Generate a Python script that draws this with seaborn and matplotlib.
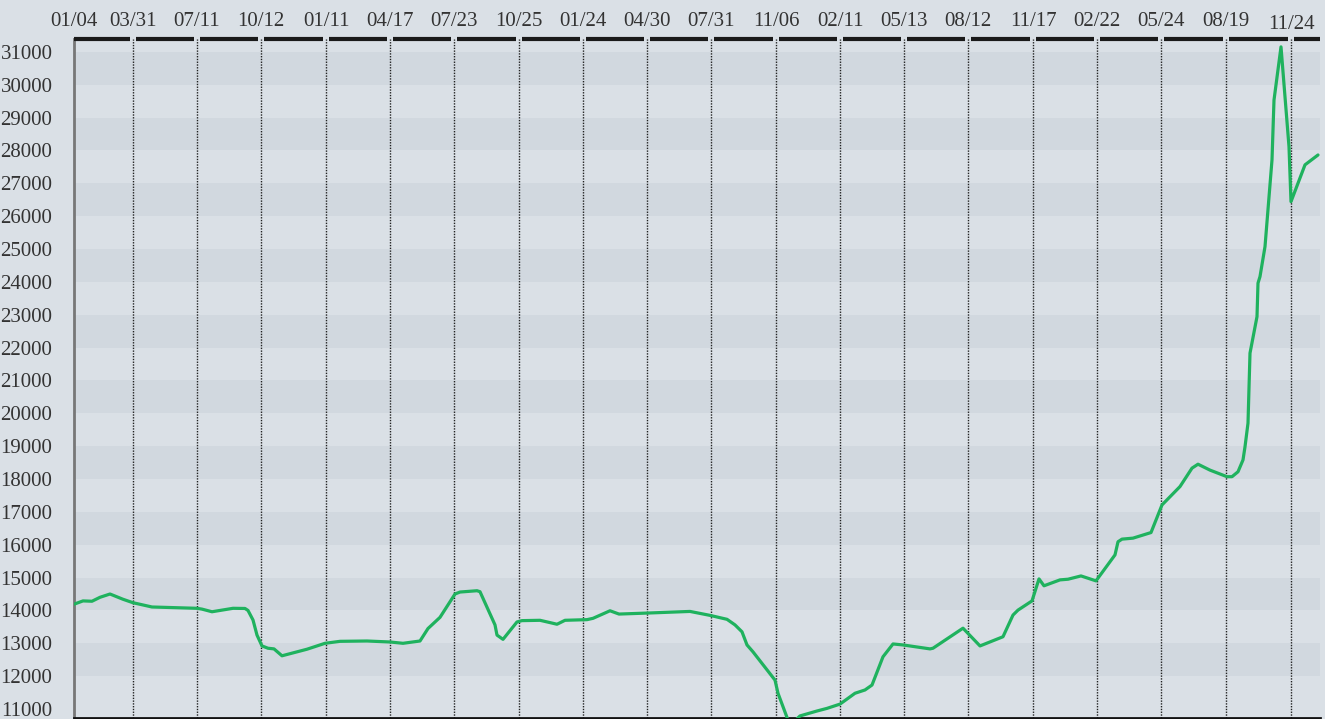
import numpy as np
import pandas as pd
import matplotlib
matplotlib.use('Agg')
import matplotlib.pyplot as plt
import seaborn as sns

# x = trading-day index, y = price
days = [0, 9, 18, 26, 36, 49, 59, 78, 123, 128, 138, 159, 171, 174, 179, 183, 188, 194,
        200, 208, 233, 251, 266, 293, 316, 329, 346, 354, 366,
        381, 386, 403, 406, 421, 423, 429, 443, 448, 466, 476, 483, 491, 513, 519, 536,
        545, 573, 616, 636,
        653, 661, 668, 673, 679, 701, 704, 716, 726, 743, 753, 766, 781, 791, 798, 809,
        819, 829, 856, 859, 889, 906, 929, 939,
        944, 958, 965, 970, 986, 994, 1007, 1022, 1041, 1044, 1048, 1059, 1077, 1088,
        1106, 1118, 1124, 1136, 1153, 1158,
        1164, 1169, 1171, 1174, 1176, 1183, 1184, 1186, 1191, 1198, 1200, 1207, 1215,
        1217, 1231, 1244]
prices = [14190, 14290, 14280, 14400, 14500, 14340, 14235, 14105, 14065, 14040, 13960,
          14065, 14060, 14000, 13710, 13250, 12920, 12850, 12830, 12620, 12820, 13000,
          13060, 13070, 13040, 13000, 13070, 13450, 13790,
          14500, 14560, 14600, 14570, 13560, 13250, 13120, 13650, 13690, 13700, 13630,
          13580, 13700, 13720, 13760, 13990, 13890, 13920, 13970, 13850,
          13730, 13560, 13350, 12950, 12740, 11880, 11480, 10500, 10790, 10940, 11020,
          11150, 11480, 11580, 11730, 12590, 12980, 12950, 12830, 12850, 13460, 12920,
          13200, 13860,
          14010, 14290, 14960, 14750, 14930, 14950, 15050, 14900, 15690, 16090, 16170,
          16200, 16370, 17210, 17770, 18330, 18450, 18270, 18070, 18070,
          18220, 18580, 18980, 19700, 21830, 22940, 23960, 24160, 25070, 27710, 29530,
          31150, 28110, 26440, 27560, 27860]

tick_days = [0, 59, 123, 187, 252, 316, 380, 445, 509, 573, 637, 702, 766, 830, 894,
             959, 1023, 1087, 1152, 1217]
tick_labels = ['01/04', '03/31', '07/11', '10/12', '01/11', '04/17', '07/23', '10/25',
               '01/24', '04/30', '07/31', '11/06', '02/11', '05/13', '08/12', '11/17',
               '02/22', '05/24', '08/19', '11/24']

df = pd.DataFrame({'day': days, 'price': prices})

bg = '#dae0e6'
band = '#d1d8df'
sns.set_style('white', {'axes.facecolor': bg, 'figure.facecolor': bg})
plt.rcParams['font.family'] = ['Liberation Serif', 'DejaVu Serif']

fig = plt.figure(figsize=(13.25, 7.19), dpi=100)
ax = fig.add_axes([74 / 1325, 1 / 719, 1246 / 1325, 679 / 719])

x_max = 1246
y_min, y_max = 10727, 31389

# alternating horizontal bands
for v in range(12000, 31000, 2000):
    ax.axhspan(v, v + 1000, color=band, lw=0, zorder=0)

# dotted vertical grid lines at the date ticks
for d in tick_days[1:]:
    ax.axvline(d, color='#222222', lw=1, ls=(0, (1, 1)), zorder=1)

sns.lineplot(data=df, x='day', y='price', ax=ax, color='#1fb25e', lw=2.3,
             estimator=None, sort=False, zorder=3)

ax.set_xlim(0, x_max)
ax.set_ylim(y_min, y_max)

# top axis: broken thick segments between the grid lines
gap = 2.8
edges = tick_days + [x_max]
for i in range(len(edges) - 1):
    x0 = edges[i] + (gap if i > 0 else 0)
    x1 = edges[i + 1] - (gap if i + 1 < len(edges) - 1 else 0)
    ax.plot([x0, x1], [1, 1], transform=ax.get_xaxis_transform(), color='#1a1a1a',
            lw=3, solid_capstyle='butt', clip_on=False, zorder=5)

ax.xaxis.tick_top()
ax.set_xticks(tick_days)
ax.set_xticklabels(tick_labels)
ax.tick_params(axis='x', length=0, pad=6, labelsize=15, labelcolor='#333333')
# last label sits a little lower in the original
ax.get_xticklabels()[-1].set_y(0.995)

ax.set_yticks(range(11000, 31001, 1000))
ax.set_yticklabels([str(v) for v in range(11000, 31001, 1000)])
ax.tick_params(axis='y', direction='out', length=2.5, width=1.2, color='#777777',
               pad=13, labelsize=15, labelcolor='#333333')

ax.set_xlabel('')
ax.set_ylabel('')

for side in ['top', 'right']:
    ax.spines[side].set_visible(False)
ax.spines['left'].set_color('#777777')
ax.spines['left'].set_linewidth(2)
ax.spines['bottom'].set_color('#111111')
ax.spines['bottom'].set_linewidth(2)

fig.savefig('out.png', dpi=100, facecolor=bg)
